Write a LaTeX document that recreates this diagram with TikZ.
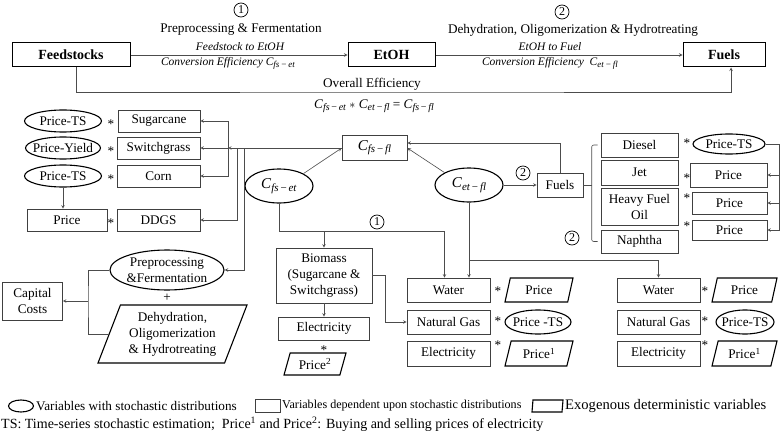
\documentclass[tikz,border=0pt]{standalone}
\usepackage{fontspec}
\setmainfont{Liberation Serif}
\usetikzlibrary{shapes.geometric}
\newcommand{\nowidth}[1]{\makebox[0pt]{#1}}
\newcommand{\coef}[3][10]{\textit{C}\raisebox{-0.35ex}{\fontsize{#1}{#1}\selectfont\textit{#2}\,−\,\textit{#3}}}

\begin{document}
\begin{tikzpicture}[x=1pt, y=-1pt, font=\fontsize{13.2}{16}\selectfont,
        box/.style={draw=black!75, line width=0.6pt, minimum height=24, inner sep=1pt, align=center},
        head/.style={box, draw=black, line width=1pt, font=\fontsize{14}{16}\selectfont\bfseries},
        oval/.style={draw, ellipse, line width=1.1pt, minimum height=22, inner sep=1pt, align=center},
        para/.style={draw, line width=1.1pt, trapezium, trapezium left angle=64, trapezium right angle=116, trapezium stretches body, minimum height=24, inner sep=1pt, align=center},
        num/.style={draw, circle, line width=0.7pt, inner sep=0pt, minimum size=14, font=\fontsize{12}{12}\selectfont},
        note/.style={font=\fontsize{11.5}{13}\selectfont\itshape},
        coefnode/.style={font=\fontsize{15}{16}\selectfont},
        ast/.style={inner sep=0pt},
        link/.style={draw=black!70, line width=0.6pt, -stealth},
        wire/.style={draw=black!70, line width=0.6pt}]
        \useasboundingbox (0,0) rectangle (784,433);

        \node[head, minimum width=118] (feed) at (71,55) {Feedstocks};
        \node[head, minimum width=87] (etoh) at (391.5,55) {EtOH};
        \node[head, minimum width=82] (fuelsT) at (724,55) {Fuels};
        \node[num] (n1) at (241,10) {1};
        \node (stage1) at (241,30) {Preprocessing \& Fermentation};
        \node[note] (conv1a) at (240,47) {Feedstock to EtOH};
        \node[note] (conv1b) at (228,63) {Conversion Efficiency \coef[9]{fs}{et}};
        \node[num] (n2) at (562,12) {2};
        \node (stage2) at (573,30) {Dehydration, Oligomerization \& Hydrotreating};
        \node[note] (conv2a) at (550,47) {EtOH to Fuel};
        \node[note] (conv2b) at (550,63) {Conversion Efficiency\ \ \coef[9]{et}{fl}};
        \node (overall) at (372,84) {Overall Efficiency};
        \node (product) at (374,106) {\coef{fs}{et} $*$ \coef{et}{fl} = \coef{fs}{fl}};
        \coordinate (ov) at (400,92);
        \draw[link] (feed) -- (etoh);
        \draw[link] (etoh) -- (fuelsT);
        \draw[link] ([xshift=5pt]feed.south) |- (ov) -| ([xshift=7pt]fuelsT.south);

        \node[oval, minimum width=77] (ts1) at (63,121) {\nowidth{Price-TS}};
        \node[oval, minimum width=75] (yield) at (63,148) {\nowidth{Price-Yield}};
        \node[oval, minimum width=77] (ts2) at (63,176) {\nowidth{Price-TS}};
        \node[box, minimum width=80, minimum height=22] (pddgs) at (67,220) {Price};
        \node[box, minimum width=82, minimum height=22] (sugar) at (159,121) {Sugarcane};
        \node[box, minimum width=83, minimum height=22] (switch) at (158.5,148) {Switchgrass};
        \node[box, minimum width=83, minimum height=22] (corn) at (158.5,176) {Corn};
        \node[box, minimum width=83, minimum height=22] (ddgs) at (158.5,220) {DDGS};
        \node[ast] (a1) at (111,124.5) {*};
        \node[ast] (a2) at (111,151.5) {*};
        \node[ast] (a3) at (111,179.5) {*};
        \node[ast] (a4) at (111,223.5) {*};
        \draw[link] (ts2.south) -- (ts2.south |- pddgs.north);

        \node[box, coefnode, minimum width=65, minimum height=25] (cfsfl) at (374.5,148) {\coef[11]{fs}{fl}};
        \node[oval, coefnode, minimum width=68, minimum height=34] (cfset) at (279,186) {\coef[11]{fs}{et}};
        \node[oval, coefnode, minimum width=68, minimum height=34] (cetfl) at (469,185) {\coef[11]{et}{fl}};
        \coordinate (j1) at (228,148);
        \coordinate (j2) at (237,148);
        \coordinate (j3) at (244,148);
        \draw[link] (cfsfl.west) -- (j1);
        \draw[link] (j1) -- (switch.east);
        \draw[link] (j1) |- (sugar.east);
        \draw[link] (j1) |- (corn.east);
        \draw[link] (j2) |- (ddgs.east);
        \draw[link] (cfset.north east) -- (cfsfl.west);
        \draw[link] (cetfl.north west) -- (cfsfl.east);

        \node[box, minimum width=46] (fuels) at (560,185) {Fuels};
        \node[num] (n3) at (523,173) {2};
        \draw[link] (cetfl) -- (fuels);
        \draw[link] (fuels.north) |- ([yshift=5pt]cfsfl.east);
        \node[box, minimum width=77] (diesel) at (639.5,145) {Diesel};
        \node[box, minimum width=77, minimum height=25] (jet) at (639.5,172.5) {Jet};
        \node[box, minimum width=77, minimum height=37] (hfo) at (639.5,206.5) {Heavy Fuel\\Oil};
        \node[box, minimum width=77, minimum height=23] (naph) at (639.5,241.5) {Naphtha};
        \node[num] (n4) at (572,238) {2};
        \draw[wire] (fuels.east) -- ++(9,0);
        \draw[wire, rounded corners=2] ([xshift=-3pt]diesel.west) -- ++(-6,0) |- ([xshift=-3pt]naph.west);
        \node[ast] (a5) at (687,143.5) {*};
        \node[ast] (a6) at (687,178.5) {*};
        \node[ast] (a7) at (687,198.5) {*};
        \node[ast] (a8) at (687,226.5) {*};
        \node[oval, minimum width=72, minimum height=20] (tsd) at (729,144) {\nowidth{Price-TS}};
        \node[box, minimum width=77] (pjet) at (728.5,175) {Price};
        \node[box, minimum width=75, minimum height=22] (phfo) at (729.5,203) {Price};
        \node[box, minimum width=75, minimum height=20] (pnaph) at (729.5,230) {Price};
        \coordinate (r1) at (779,144);
        \draw[wire] (tsd.east) -- (r1);
        \draw[link] (r1) |- (pjet.east);
        \draw[link] (r1) |- (phfo.east);
        \draw[link] (r1) |- (pnaph.east);

        \node[box, minimum width=96, minimum height=55] (bio) at (324,275.5) {Biomass\\(Sugarcane \&\\Switchgrass)};
        \node[box, minimum width=91, minimum height=23] (elecL) at (324,328.5) {Electricity};
        \node[ast] (a9) at (324,350.5) {*};
        \node[para, minimum width=62, minimum height=22] (sell) at (315,364) {Price\textsuperscript{2}};
        \draw[link] (bio) -- (elecL);

        \node[box, minimum width=83] (waterM) at (448.5,290) {Water};
        \node[box, minimum width=83] (ngM) at (448.5,322) {Natural Gas};
        \node[box, minimum width=83, minimum height=25] (elecM) at (448.5,353.5) {Electricity};
        \node[ast] (a10) at (498,291.5) {*};
        \node[ast] (a11) at (498,321.5) {*};
        \node[ast] (a12) at (498,345.5) {*};
        \node[para, minimum width=68] (pwM) at (539,290) {Price};
        \node[oval, minimum width=66, minimum height=24] (tsM) at (538,322) {\nowidth{Price -TS}};
        \node[para, minimum width=68, minimum height=25] (buyM) at (539,353.5) {Price\textsuperscript{1}};
        \draw[link] (bio.east) -- ++(13,0) |- (ngM.west);

        \node[box, minimum width=83] (waterR) at (658.5,290) {Water};
        \node[box, minimum width=83] (ngR) at (658.5,322) {Natural Gas};
        \node[box, minimum width=83, minimum height=25] (elecR) at (658.5,353.5) {Electricity};
        \node[ast] (a13) at (705,291.5) {*};
        \node[ast] (a14) at (705,321.5) {*};
        \node[ast] (a15) at (705,345.5) {*};
        \node[para, minimum width=65] (pwR) at (744.5,290) {Price};
        \node[oval, minimum width=58, minimum height=24] (tsR) at (745,322) {\nowidth{Price-TS}};
        \node[para, minimum width=65, minimum height=25] (buyR) at (744.5,353.5) {Price\textsuperscript{1}};

        \coordinate (k1) at (444.5,231);
        \coordinate (k2) at (0,260);
        \node[num] (n5) at (377,222) {1};
        \draw[link] (cfset.south) |- (k1) -- (k1 |- waterM.north);
        \draw[link] (cfset.south |- k1) -| (bio.north);
        \draw[link] (cetfl.south) -- (cetfl.south |- waterM.north);
        \draw[link] (cetfl.south |- k2) -| (waterR.north);

        \node[oval, minimum width=113, minimum height=40, inner sep=0pt] (prep) at (167,270) {Preprocessing\\\&Fermentation};
        \node (plus) at (167,298) {+};
        \node[para, minimum width=149, minimum height=58] (dehy) at (172.5,334) {Dehydration,\\Oligomerization\\\& Hydrotreating};
        \node[box, minimum width=60, minimum height=38] (capex) at (32.5,301) {Capital\\Costs};
        \coordinate (cc) at (88,301);
        \draw[link] (j3) |- (prep.east);
        \draw[wire] (prep.west) -| (cc) |- (dehy.west);
        \draw[link] (cc) -- (capex.east);

        \node[oval, minimum width=25, minimum height=12] (legoval) at (21,406) {};
        \node[anchor=west, inner sep=0pt, font=\fontsize{13.2}{16}\selectfont] (legt1) at (36,406) {Variables with stochastic distributions};
        \node[box, minimum width=25, minimum height=13] (legbox) at (267.5,406) {};
        \node[anchor=west, inner sep=0pt, font=\fontsize{12.1}{16}\selectfont] (legt2) at (282,406) {Variables dependent upon stochastic distributions};
        \node[para, minimum width=31, minimum height=12] (legpara) at (547.5,406) {};
        \node[anchor=west, inner sep=0pt, font=\fontsize{14.6}{16}\selectfont] (legt3) at (565,406) {Exogenous deterministic variables};
        \node[anchor=west, inner sep=0pt, font=\fontsize{14}{16}\selectfont] (legt4) at (1,424) {TS: Time-series stochastic estimation;\ \ Price\textsuperscript{1} and Price\textsuperscript{2}: Buying and selling prices of electricity};
    \end{tikzpicture}
\end{document}
